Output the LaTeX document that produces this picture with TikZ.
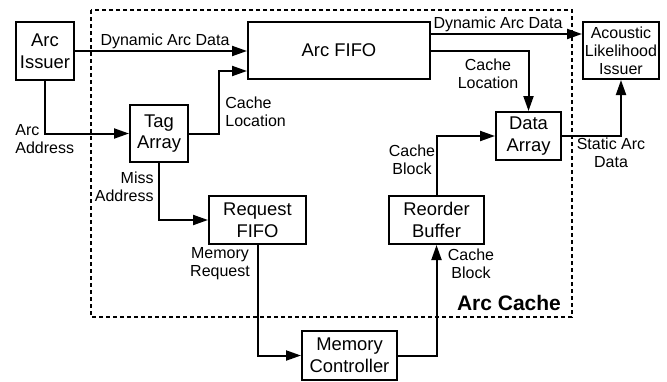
\documentclass[tikz,border=0pt]{standalone}
\usepackage{fontspec}
\setmainfont{Liberation Sans}
\usepackage{tikz}
\usetikzlibrary{arrows.meta,calc}

\begin{document}
\begin{tikzpicture}[x=0.5pt,y=-0.5pt,
	block/.style={draw,line width=1pt,inner sep=0pt,align=center,font=\fontsize{9.2}{10.8}\selectfont},
	lbl/.style={inner sep=0pt,font=\fontsize{8}{8.9}\selectfont},
	conn/.style={line width=1pt,-{Triangle[length=7.5pt,width=5pt]}}]
	\useasboundingbox (0,0) rectangle (667,381);
	% arc cache boundary
	\draw[line width=0.9pt,dash pattern=on 2pt off 1.5pt] (91,10) rectangle (572,317);
	\node[font=\bfseries\fontsize{10.5}{12}\selectfont] (cachename) at (509,303) {Arc Cache};
	% blocks
	\node[block,minimum width=29pt,minimum height=29pt] (issuer) at (45,51) {Arc\\Issuer};
	\node[block,minimum width=91pt,minimum height=28.5pt] (arcfifo) at (339,50.5) {Arc FIFO};
	\node[block,minimum width=38pt,minimum height=28.5pt,font=\fontsize{8}{9}\selectfont] (likely) at (621,50.5) {Acoustic\\Likelihood\\Issuer};
	\node[block,minimum width=29pt,minimum height=28.5pt] (tag) at (159,133.5) {Tag\\Array};
	\node[block,minimum width=32.5pt,minimum height=24pt] (data) at (528.5,136) {Data\\Array};
	\node[block,minimum width=48.5pt,minimum height=24pt] (reqfifo) at (257.5,220) {Request\\FIFO};
	\node[block,minimum width=47.5pt,minimum height=24pt] (reorder) at (436.5,220) {Reorder\\Buffer};
	\node[block,minimum width=47.5pt,minimum height=24.5pt] (memctrl) at (349.5,355.5) {Memory\\Controller};
	% connectors
	\draw[conn] (issuer.east) -- (issuer.east -| arcfifo.west);
	\draw[conn] (issuer.south) |- (tag.west);
	\draw[conn] (tag.east) -- ++(30,0) |- ($(arcfifo.west)+(0,20.5)$);
	\draw[conn] ($(arcfifo.east)+(0,-16.5)$) -- ($(arcfifo.east -| likely.west)+(0,-16.5)$);
	\draw[conn] (arcfifo.east) -| (data.north);
	\draw[conn] (data.east) -| (likely.south);
	\draw[conn] (tag.south) |- (reqfifo.west);
	\draw[conn] (reqfifo.south) |- (memctrl.west);
	\draw[conn] (memctrl.east) -| (reorder.south);
	\draw[conn] (reorder.north) |- (data.west);
	% labels
	\node[lbl] (dyn1) at (165,41) {Dynamic Arc Data};
	\node[lbl,anchor=west,align=left] (arcaddr) at (15,139) {Arc\\Address};
	\node[lbl,anchor=west,align=left] (loc1) at (225,112) {Cache\\Location};
	\node[lbl] (dyn2) at (498,24) {Dynamic Arc Data};
	\node[lbl,align=center] (loc2) at (488,74) {Cache\\Location};
	\node[lbl,align=center] (static) at (611,153) {Static Arc\\Data};
	\node[lbl,anchor=east,align=right] (miss) at (154,187) {Miss\\Address};
	\node[lbl,align=center] (memreq) at (220,264) {Memory\\Request};
	\node[lbl,align=center] (blk1) at (471,264) {Cache\\Block};
	\node[lbl,align=center] (blk2) at (412,160) {Cache\\Block};
\end{tikzpicture}
\end{document}
